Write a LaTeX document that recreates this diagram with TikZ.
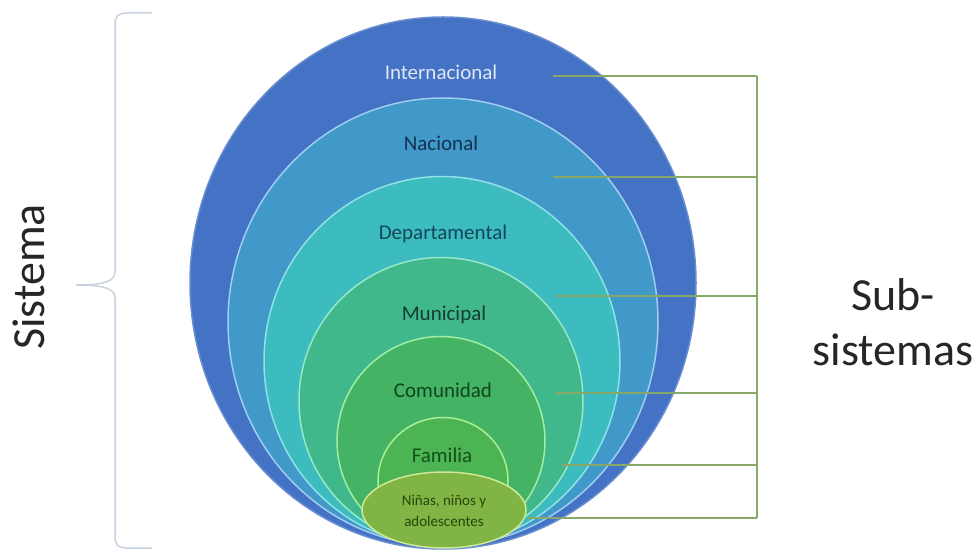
\documentclass[tikz,border=0pt]{standalone}
\usepackage{fontspec}
\setmainfont{Carlito}
\usetikzlibrary{shapes.geometric}
\definecolor{intcol}{RGB}{68,114,196}
\definecolor{naccol}{RGB}{64,153,201}
\definecolor{depcol}{RGB}{60,188,190}
\definecolor{muncol}{RGB}{64,184,140}
\definecolor{comcol}{RGB}{68,180,100}
\definecolor{famcol}{RGB}{76,180,82}
\definecolor{nincol}{RGB}{128,180,68}
\definecolor{linkcol}{RGB}{135,168,104}
\definecolor{bracecol}{RGB}{200,210,225}
\begin{document}
\begin{tikzpicture}[x=1pt,y=-1pt,
		ring/.style={ellipse,draw,line width=1.5pt,inner sep=0pt},
		lbl/.style={font=\fontsize{21}{24}\selectfont},
		link/.style={draw=linkcol,line width=2pt},
		big/.style={font=\fontsize{46}{55}\selectfont,text=black!85,align=center}]
			\useasboundingbox (0,0) rectangle (978,553);
			% nested levels
			\node[ring,fill=intcol,draw=intcol!80!white,minimum width=506pt,minimum height=532pt] (int) at (443,283) {};
			\node[ring,fill=naccol,draw={rgb,255:red,160;green,205;blue,240},minimum width=430pt,minimum height=448pt] (nac) at (443,322) {};
			\node[ring,fill=depcol,draw={rgb,255:red,145;green,225;blue,230},minimum width=356pt,minimum height=369pt] (dep) at (442,361) {};
			\node[ring,fill=muncol,draw={rgb,255:red,150;green,232;blue,200},minimum width=284pt,minimum height=287pt] (mun) at (441,401) {};
			\node[ring,fill=comcol,draw={rgb,255:red,160;green,238;blue,165},minimum width=208pt,minimum height=209pt] (com) at (441,441) {};
			\node[ring,fill=famcol,draw={rgb,255:red,170;green,238;blue,150},minimum width=130pt,minimum height=127pt] (fam) at (443,481) {};
			\node[ring,fill=nincol,draw={rgb,255:red,205;green,232;blue,150},minimum width=164pt,minimum height=76pt] (nin) at (444,510) {};
			% labels
			\node[lbl,text={rgb,255:red,225;green,232;blue,245}] (tint) at (441,72) {Internacional};
			\node[lbl,text={rgb,255:red,20;green,50;blue,80}] (tnac) at (441,143) {Nacional};
			\node[lbl,text={rgb,255:red,20;green,70;blue,90}] (tdep) at (443,234) {Departamental};
			\node[lbl,text={rgb,255:red,20;green,60;blue,50}] (tmun) at (444,315) {Municipal};
			\node[lbl,text={rgb,255:red,15;green,70;blue,30}] (tcom) at (443,390) {Comunidad};
			\node[lbl,text={rgb,255:red,20;green,80;blue,25}] (tfam) at (442,455) {Familia};
			\node[font=\fontsize{15}{21}\selectfont,align=center,text={rgb,255:red,40;green,70;blue,10}] (tnin) at (444,511) {Niñas, niños y\\adolescentes};
			% connectors to the bar
			\foreach \y/\x [count=\i] in {76/553,177/553,296/556,393/556,465/562,518/528} {
				\coordinate (s\i) at (\x,\y);
				\coordinate (b\i) at (757,\y);
				\draw[link] (s\i) -- (b\i);
			}
			\draw[link] (b1) -- (b6);
			% brace
			\draw[bracecol,line width=1.5pt] (152,13) -- (127,13) .. controls (118,13) and (115,16) .. (115,25) -- (115,272) .. controls (115,281) and (105,285) .. (76,285) .. controls (105,285) and (115,289) .. (115,298) -- (115,536) .. controls (115,545) and (118,548) .. (127,548) -- (152,548);
			\node[big,rotate=90,anchor=base] (sis) at (44,277) {Sistema};
			\node[big] (sub) at (893,322) {Sub-\\sistemas};
		\end{tikzpicture}
\end{document}
